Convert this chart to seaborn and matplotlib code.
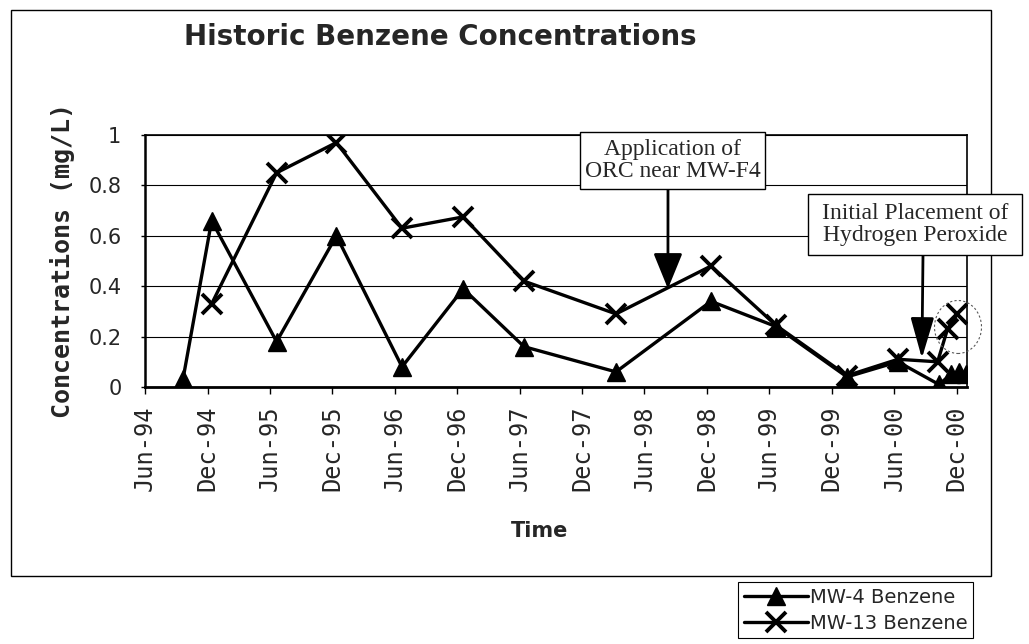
import pandas as pd
import seaborn as sns
import matplotlib.pyplot as plt
from matplotlib.patches import Rectangle, Ellipse

# values
mw4_dates = ["1994-09-20", "1994-12-13", "1995-06-21", "1995-12-13", "1996-06-22",
             "1996-12-18", "1997-06-14", "1998-03-10", "1998-12-13", "1999-06-21",
             "2000-01-15", "2000-06-12", "2000-10-10", "2000-11-14", "2000-12-08",
             "2000-12-28"]
mw4_vals = [0.03, 0.66, 0.18, 0.60, 0.08, 0.39, 0.16, 0.06, 0.34, 0.24,
            0.04, 0.10, 0.01, 0.05, 0.06, 0.05]

mw13_dates = ["1994-12-13", "1995-06-21", "1995-12-13", "1996-06-22", "1996-12-18",
              "1997-06-14", "1998-03-10", "1998-12-13", "1999-06-21", "2000-01-15",
              "2000-06-12", "2000-10-06", "2000-11-04", "2000-12-03"]
mw13_vals = [0.33, 0.85, 0.97, 0.63, 0.675, 0.42, 0.29, 0.48, 0.245, 0.045,
             0.11, 0.10, 0.23, 0.29]

y_ticks = [0, 0.2, 0.4, 0.6, 0.8, 1]
y_tick_labels = ["0", "0.2", "0.4", "0.6", "0.8", "1"]
x_tick_dates = pd.date_range("1994-06-01", "2000-12-01", freq="6MS")

# annotation tips (date, value) and text
orc_tip = ("1998-08-09", 0.39)
h2o2_tip = ("2000-08-21", 0.114)
orc_text = "Application of\nORC near MW-F4"
h2o2_text = "Initial Placement of\nHydrogen Peroxide"

sns.set_theme(style="white")
plt.rcParams['font.family'] = ['DejaVu Sans']

W, H = 1029, 644
fig = plt.figure(figsize=(W / 100, H / 100), dpi=100)


def fx(px):
    return px / W


def fy(py):
    return 1 - py / H


ax = fig.add_axes([fx(145), fy(387), fx(967) - fx(145), fy(135) - fy(387)])

mw4 = pd.DataFrame({"date": pd.to_datetime(mw4_dates), "conc": mw4_vals})
mw13 = pd.DataFrame({"date": pd.to_datetime(mw13_dates), "conc": mw13_vals})

sns.lineplot(data=mw4, x="date", y="conc", color="black", lw=2.4, marker="^",
             markersize=13, mec="black", mew=1, label="MW-4 Benzene", ax=ax, zorder=3)
sns.lineplot(data=mw13, x="date", y="conc", color="black", lw=2.4, marker="x",
             markersize=14, mec="black", mew=2.8, label="MW-13 Benzene", ax=ax, zorder=3)

ax.set_xlim(pd.Timestamp("1994-06-01"), pd.Timestamp("2000-12-31"))
ax.set_ylim(0, 1)
ax.set_xticks(x_tick_dates)
ax.set_xticklabels([d.strftime("%b-%y") for d in x_tick_dates], rotation=90,
                   family="DejaVu Sans Mono", fontsize=17)
ax.set_yticks(y_ticks)
ax.set_yticklabels(y_tick_labels, fontsize=15)
ax.tick_params(axis="x", bottom=True, length=5, width=1, pad=8, color="black")
ax.tick_params(axis="y", left=True, length=3, width=1, pad=14, color="black")
ax.yaxis.grid(True, color="black", lw=0.8)
ax.xaxis.grid(False)
for name, sp in ax.spines.items():
    sp.set_visible(True)
    sp.set_color("black")
    sp.set_linewidth(1.2)
ax.spines["bottom"].set_linewidth(2)
ax.spines["left"].set_linewidth(1.8)

ax.set_xlabel("Time", fontsize=15, fontweight="bold")
ax.xaxis.set_label_coords(0.48, -0.53)
ax.set_ylabel("Concentrations (mg/L)", family="DejaVu Sans Mono", fontsize=18,
              fontweight="bold")
ax.yaxis.set_label_coords(-0.085, 0.5)

fig.text(fx(440), fy(37), "Historic Benzene Concentrations", ha="center", va="center",
         fontsize=20, fontweight="bold")

# annotation boxes
for (x0, y0, x1, y1), txt in [((580, 132, 765, 189), orc_text),
                               ((808, 194, 1022, 255), h2o2_text)]:
    fig.patches.append(Rectangle((fx(x0), fy(y1)), fx(x1) - fx(x0), fy(y0) - fy(y1),
                                 transform=fig.transFigure, fc="white", ec="black",
                                 lw=1, zorder=5))
    fig.text(fx((x0 + x1) / 2), fy((y0 + y1) / 2), txt, ha="center", va="center",
             family="Liberation Serif", fontsize=17, linespacing=1.05, zorder=6)

arrow_styles = ["-|>,head_length=1.1,head_width=0.45",
                "-|>,head_length=1.25,head_width=0.36"]
for tip, start, style in zip([orc_tip, h2o2_tip], [(668, 189), (923, 255)], arrow_styles):
    ax.annotate("", xy=(pd.Timestamp(tip[0]), tip[1]), xycoords="data",
                xytext=(fx(start[0]), fy(start[1])), textcoords="figure fraction",
                arrowprops=dict(arrowstyle=style, mutation_scale=20, color="black",
                                lw=2, shrinkA=0, shrinkB=0),
                zorder=4, annotation_clip=False)

# hand drawn circle on the scan
fig.patches.append(Ellipse((fx(958), fy(327)), fx(47), 53 / H, transform=fig.transFigure,
                           fill=False, ec="0.35", lw=0.8, ls=(0, (2, 2))))

# chart area border
fig.patches.append(Rectangle((fx(11), fy(576)), fx(991) - fx(11), fy(10) - fy(576),
                             transform=fig.transFigure, fill=False, ec="black", lw=1,
                             zorder=0.5))

handles, labels = ax.get_legend_handles_labels()
ax.get_legend().remove()
leg = fig.legend(handles, labels, loc="upper left", bbox_to_anchor=(fx(738), fy(582)),
                 frameon=True, fancybox=False, edgecolor="black", fontsize=14,
                 handlelength=3.3, handletextpad=0.1, borderpad=0.3, labelspacing=0.35,
                 borderaxespad=0, framealpha=1)
leg.get_frame().set_linewidth(0.8)

fig.savefig("out.png", dpi=100, facecolor="white")
